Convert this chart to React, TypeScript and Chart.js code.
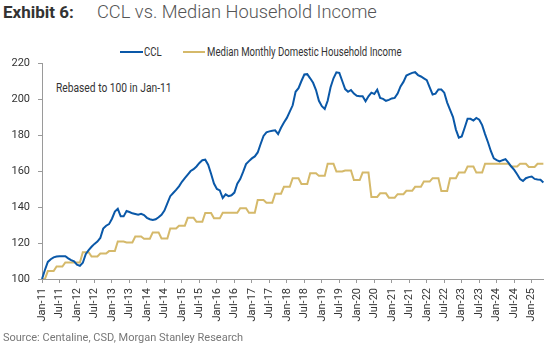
import React, { useEffect, useRef } from "react";
import { Chart, registerables } from "chart.js";

Chart.register(...registerables);

const MONTHS = ["Jan", "Feb", "Mar", "Apr", "May", "Jun", "Jul", "Aug", "Sep", "Oct", "Nov", "Dec"];
const YEARS = ["11", "12", "13", "14", "15", "16", "17", "18", "19", "20", "21", "22", "23", "24", "25"];
const LAST_MONTH_2025 = 5; // data runs to May-25

const categories: string[] = [];
YEARS.forEach((y, yi) => {
  const n = yi === YEARS.length - 1 ? LAST_MONTH_2025 : 12;
  for (let m = 0; m < n; m++) categories.push(`${MONTHS[m]}-${y}`);
});

// CCL, rebased to 100 in Jan-11 (monthly)
const ccl: number[] = [
  100, 105, 109.5, 111, 112, 112.5, 112.7, 112.7, 112.7, 111.5, 110.5, 109.8,
  108, 107.3, 109, 113.8, 116, 117.9, 119.5, 120.8, 122.8, 128, 129.6, 130.5,
  133.5, 137.5, 139, 134.8, 134.8, 137.8, 137.2, 136.5, 136.1, 135.7, 136.2, 135.5,
  134, 133.2, 132.8, 133.2, 134.3, 135.7, 138, 142, 146, 147.8, 149.5, 151.5,
  154, 156, 158, 160, 161, 162.5, 164.5, 166, 166.3, 163.5, 158.5, 153,
  150, 149.2, 145, 147, 146, 146.5, 148, 153, 155.5, 159.5, 163.8, 165.5,
  167, 168.1, 170.3, 175, 179.5, 181.5, 182, 182.4, 182.6, 180.5, 184, 187,
  189.5, 193, 196.5, 204, 206, 210, 213.6, 213.8, 211.5, 209, 205, 199,
  196, 194.5, 199, 206.5, 211.5, 214.8, 214.5, 210, 205.5, 204, 205, 203,
  201.8, 201.5, 201.5, 198.7, 201.5, 203.5, 202.8, 205.2, 200.6, 200.1, 199, 199.5,
  200.3, 200.6, 203, 207, 209.5, 213, 213.8, 214.5, 214.9, 213.3, 212.5, 211.5,
  210.5, 206.5, 202.5, 203, 205.3, 205.3, 203.5, 198, 194, 190, 183, 178.5,
  179.2, 184, 189, 189, 188, 189.5, 188.5, 185.5, 180.5, 176, 171, 167,
  166, 165.3, 166, 166.6, 164.6, 162.5, 160.6, 158.2, 155.5, 154.5, 156, 156.6,
  156.9, 155.6, 155.3, 155.1, 153.6,
];

// Median Monthly Domestic Household Income, rebased to 100 in Jan-11 (monthly)
const income: number[] = [
  100, 100, 104.4, 104.4, 104.4, 106.9, 106.9, 106.9, 109.2, 109.2, 109.2, 109.2,
  109.2, 109.2, 114.9, 114.9, 114.9, 112.5, 112.5, 112.5, 114.2, 114.2, 114.2, 115.5,
  115.5, 115.5, 120.8, 120.8, 120.8, 120.3, 120.3, 120.3, 123.6, 123.6, 123.6, 122.4,
  122.4, 122.4, 125.9, 125.9, 125.9, 122.5, 122.5, 122.5, 128.1, 128.1, 128.1, 129.6,
  129.6, 129.6, 134, 134, 134, 131.8, 131.8, 131.8, 136.7, 136.7, 136.7, 133.7,
  133.7, 133.7, 136.8, 136.8, 136.8, 136.8, 136.8, 136.8, 139.3, 139.3, 139.3, 136.8,
  136.8, 136.8, 143.9, 143.9, 143.9, 142.4, 142.4, 142.4, 147.4, 147.4, 147.4, 151.2,
  151.2, 151.2, 156, 156, 156, 152.8, 152.8, 152.8, 158.8, 158.8, 158.8, 157.3,
  157.3, 157.3, 164, 164, 164, 159.7, 159.7, 159.7, 160.3, 160.3, 160.3, 155,
  155, 155, 159.1, 159.1, 159.1, 145.6, 145.6, 145.6, 147.6, 147.6, 147.6, 145.2,
  145.2, 145.2, 147.1, 147.1, 147.1, 149, 149, 149, 151.2, 151.2, 151.2, 154.1,
  154.1, 154.1, 156, 156, 156, 148.9, 148.9, 148.9, 156, 156, 156, 159.1,
  159.1, 159.1, 162.5, 162.5, 162.5, 159.1, 159.1, 159.1, 164, 164, 164, 164,
  164, 164, 164, 164, 164, 162.5, 162.5, 162.5, 164, 164, 164, 162.2,
  162.2, 162.2, 164, 164, 164,
];

const Y_MIN = 100;
const Y_MAX = 220;
const Y_STEP = 20;
const TICK_EVERY = 6;

const BLUE = "#0a58a8";
const GOLD = "#d5b96a";
const AXIS = "#9a9a9a";
const TEXT = "#333333";
const FONT = "Roboto, sans-serif";

export default function App() {
  const ref = useRef<HTMLCanvasElement>(null);

  useEffect(() => {
    document.body.style.margin = "0";
    const chart = new Chart(ref.current!, {
      type: "line",
      data: {
        labels: categories,
        datasets: [
          {
            label: "CCL",
            data: ccl,
            borderColor: BLUE,
            borderWidth: 2,
            pointRadius: 0,
            tension: 0,
          },
          {
            label: "Median Monthly Domestic Household Income",
            data: income,
            borderColor: GOLD,
            borderWidth: 2,
            pointRadius: 0,
            tension: 0,
          },
        ],
      },
      options: {
        responsive: false,
        animation: false,
        layout: { padding: { left: 0, right: 4, top: 63, bottom: 0 } },
        plugins: { legend: { display: false }, tooltip: { enabled: false }, title: { display: false } },
        scales: {
          x: {
            type: "category",
            offset: false,
            afterBuildTicks: (scale: any) => {
              scale.ticks = scale.ticks.filter((t: any) => t.value % TICK_EVERY === 0);
            },
            afterFit: (scale: any) => {
              scale.height = 69;
            },
            ticks: {
              autoSkip: false,
              maxRotation: 90,
              minRotation: 90,
              padding: 5,
              color: TEXT,
              font: { family: FONT, size: 11 },
            },
            grid: { display: true, drawOnChartArea: false, tickLength: 4, color: AXIS },
            border: { display: true, color: AXIS, width: 1 },
          },
          y: {
            min: Y_MIN,
            max: Y_MAX,
            afterFit: (scale: any) => {
              scale.width = 42;
            },
            ticks: {
              stepSize: Y_STEP,
              padding: 8,
              color: TEXT,
              font: { family: FONT, size: 11 },
            },
            grid: { display: true, drawOnChartArea: false, tickLength: 4, color: AXIS },
            border: { display: true, color: AXIS, width: 1 },
          },
        },
      },
    });
    return () => chart.destroy();
  }, []);

  const condensed = (scale: number) => ({
    display: "inline-block",
    transform: `scaleX(${scale})`,
    transformOrigin: "left center",
    whiteSpace: "nowrap" as const,
  });

  return (
    <div style={{ position: "fixed", left: 0, top: 0, width: 550, height: 348, background: "#fff", overflow: "hidden" }}>
      <div style={{ position: "absolute", left: 3, top: 2, whiteSpace: "nowrap", fontFamily: FONT }}>
        <span style={{ fontWeight: 700, fontSize: 17, color: "#333" }}>Exhibit 6:</span>
        <span style={{ position: "absolute", left: 94, top: -1, fontWeight: 300, fontSize: 18.3, color: "#555" }}>
          CCL vs. Median Household Income
        </span>
      </div>

      <div style={{ position: "absolute", left: 120, top: 45, height: 14, fontFamily: FONT, fontSize: 12, lineHeight: "14px", color: TEXT }}>
        <span style={{ position: "absolute", left: 0, top: 6, width: 23, height: 2, background: BLUE }} />
        <span style={{ position: "absolute", left: 24, top: 0, ...condensed(0.8) }}>CCL</span>
        <span style={{ position: "absolute", left: 63, top: 6, width: 22, height: 2, background: GOLD }} />
        <span style={{ position: "absolute", left: 87, top: 0, ...condensed(0.8) }}>
          Median Monthly Domestic Household Income
        </span>
      </div>

      <div style={{ position: "absolute", left: 56, top: 80, fontFamily: FONT, fontSize: 12.5, lineHeight: "15px", color: TEXT }}>
        <span style={condensed(0.82)}>Rebased to 100 in Jan-11</span>
      </div>

      <canvas ref={ref} width={550} height={348} style={{ position: "absolute", left: 0, top: 0 }} />

      <div
        style={{
          position: "absolute",
          left: 3,
          top: 331,
          fontFamily: FONT,
          fontSize: 11,
          color: "#777",
          whiteSpace: "nowrap",
          lineHeight: "14px",
        }}
      >
        Source: Centaline, CSD, Morgan Stanley Research
      </div>
    </div>
  );
}
